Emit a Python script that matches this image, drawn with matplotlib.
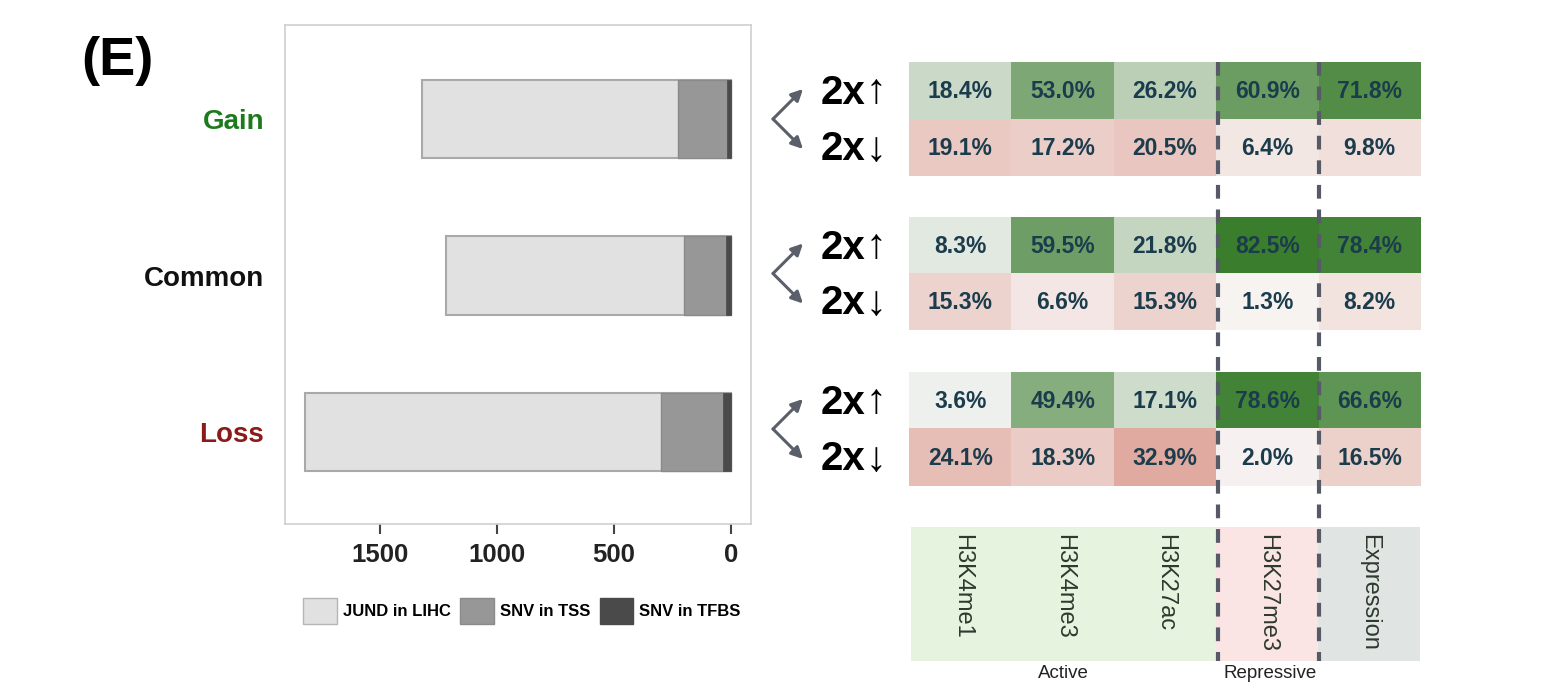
import numpy as np
import matplotlib
matplotlib.use("Agg")
import matplotlib.pyplot as plt
from matplotlib.colors import LinearSegmentedColormap
from matplotlib.lines import Line2D
from matplotlib.patches import FancyArrowPatch, Patch

plt.rcParams['font.family'] = ['Liberation Sans', 'DejaVu Sans']

# Data
groups = ["Gain", "Common", "Loss"]
group_colors = ["#1c7a1c", "#111111", "#8b1a1a"]
jund_lihc = [1320, 1218, 1820]
snv_tss = [226, 200, 299]
snv_tfbs = [17, 21, 34]

marks = ["H3K4me1", "H3K4me3", "H3K27ac", "H3K27me3", "Expression"]
up_pct = [[18.4, 53.0, 26.2, 60.9, 71.8],
          [8.3, 59.5, 21.8, 82.5, 78.4],
          [3.6, 49.4, 17.1, 78.6, 66.6]]
down_pct = [[19.1, 17.2, 20.5, 6.4, 9.8],
            [15.3, 6.6, 15.3, 1.3, 8.2],
            [24.1, 18.3, 32.9, 2.0, 16.5]]

W, H = 1563, 692
fig = plt.figure(figsize=(W / 100, H / 100), dpi=100)


def box(x0, y0, x1, y1):
    # pixel box (y from top) -> figure fraction rect
    return [x0 / W, 1 - y1 / H, (x1 - x0) / W, (y1 - y0) / H]


def fx(x):
    return x / W


def fy(y):
    return 1 - y / H


# (E) panel label
fig.text(fx(81), fy(75), "(E)", fontsize=39, fontweight="bold", ha="left", va="baseline")

# ---- bar chart ----
ax = fig.add_axes(box(285, 25, 751, 524))
ypos = np.arange(len(groups))[::-1]
ax.barh(ypos, jund_lihc, height=0.5, color="#e1e1e1", edgecolor="#a9a9a9", linewidth=1.5)
ax.barh(ypos, snv_tss, height=0.5, color="#979797", edgecolor="#8a8a8a", linewidth=1)
ax.barh(ypos, snv_tfbs, height=0.5, color="#4a4a4a", edgecolor="#4a4a4a", linewidth=0.5)
ax.set_xlim(1906, -85)
ax.set_ylim(-0.586, 2.6)
ax.set_xticks([1500, 1000, 500, 0])
ax.set_xticklabels(["1500", "1000", "500", "0"], fontsize=18.5, fontweight="bold", color="#222222")
ax.tick_params(axis="x", length=7, width=1.5, color="#444444", pad=7)
ax.set_yticks(ypos)
ax.set_yticklabels(groups, fontsize=20, fontweight="bold")
for lbl, c in zip(ax.get_yticklabels(), group_colors):
    lbl.set_color(c)
ax.tick_params(axis="y", length=0, pad=15)
for s in ax.spines.values():
    s.set_color("#cfcfcf")
    s.set_linewidth(1.2)

handles = [Patch(facecolor="#e1e1e1", edgecolor="#b5b5b5"),
           Patch(facecolor="#979797", edgecolor="#8a8a8a"),
           Patch(facecolor="#4a4a4a", edgecolor="#4a4a4a")]
fig.legend(handles, ["JUND in LIHC", "SNV in TSS", "SNV in TFBS"],
           loc="center", bbox_to_anchor=(fx(522), fy(611)), ncol=3, frameon=False,
           prop={"size": 12, "weight": "bold"}, handlelength=2.0, handleheight=2.0,
           handletextpad=0.35, columnspacing=0.6)

# ---- heatmaps ----
green = LinearSegmentedColormap.from_list("g", ["#f5f5f5", "#357a28"])
red = LinearSegmentedColormap.from_list("r", ["#f8f6f5", "#dc9a8e"])
rows_y = [(62, 176), (217, 330), (372, 486)]
for g, (y0, y1) in enumerate(rows_y):
    hx = fig.add_axes(box(909, y0, 1421, y1))
    up = np.array([up_pct[g]])
    dn = np.array([down_pct[g]])
    hx.imshow(up, cmap=green, vmin=0, vmax=85, extent=(0, 5, 1, 0), aspect="auto")
    hx.imshow(dn, cmap=red, vmin=0, vmax=40, extent=(0, 5, 2, 1), aspect="auto")
    hx.set_xlim(0, 5)
    hx.set_ylim(2, 0)
    for j in range(5):
        hx.text(j + 0.5, 0.52, f"{up_pct[g][j]:.1f}%", ha="center", va="center",
                fontsize=16.5, fontweight="bold", color="#1b3c4c")
        hx.text(j + 0.5, 1.52, f"{down_pct[g][j]:.1f}%", ha="center", va="center",
                fontsize=16.5, fontweight="bold", color="#1b3c4c")
    hx.axis("off")

    # fold-change labels and arrows
    yc = (y0 + y1) / 2
    yu = y0 + (y1 - y0) * 0.27
    yd = y0 + (y1 - y0) * 0.76
    fig.text(fx(821), fy(yu), "2x", fontsize=29, fontweight="bold", ha="left", va="center")
    fig.text(fx(865), fy(yu - 1), "\u2191", fontsize=30, ha="left", va="center")
    fig.text(fx(821), fy(yd), "2x", fontsize=29, fontweight="bold", ha="left", va="center")
    fig.text(fx(865), fy(yd + 1), "\u2193", fontsize=30, ha="left", va="center")
    for ty in (yc - 30, yc + 30):
        arr = FancyArrowPatch((fx(773), fy(yc)), (fx(803), fy(ty)), transform=fig.transFigure,
                              arrowstyle="-|>", mutation_scale=17, color="#5a5f6a", linewidth=2.2,
                              shrinkA=0, shrinkB=0)
        fig.add_artist(arr)

# ---- mark label box ----
lx = fig.add_axes(box(911, 527, 1420, 661))
band_colors = ["#e5f3df", "#e5f3df", "#e5f3df", "#fae4e4", "#e0e5e4"]
for j, (m, c) in enumerate(zip(marks, band_colors)):
    lx.axvspan(j, j + 1, color=c, lw=0)
    lx.text(j + 0.5, 0.95, m, rotation=-90, ha="center", va="top", fontsize=17, color="#2e3a2e")
lx.set_xlim(0, 5)
lx.set_ylim(0, 1)
lx.axis("off")
fig.text(fx(1063), fy(674), "Active", ha="center", va="center", fontsize=13.5, color="#222222")
fig.text(fx(1270), fy(674), "Repressive", ha="center", va="center", fontsize=13.5, color="#222222")

# dashed separators
for x in (1218, 1319):
    fig.add_artist(Line2D([fx(x), fx(x)], [fy(62), fy(661)], transform=fig.transFigure,
                          color="#555a66", linewidth=3, linestyle=(0, (3.3, 2.6))))

fig.savefig("out.png", dpi=100)
